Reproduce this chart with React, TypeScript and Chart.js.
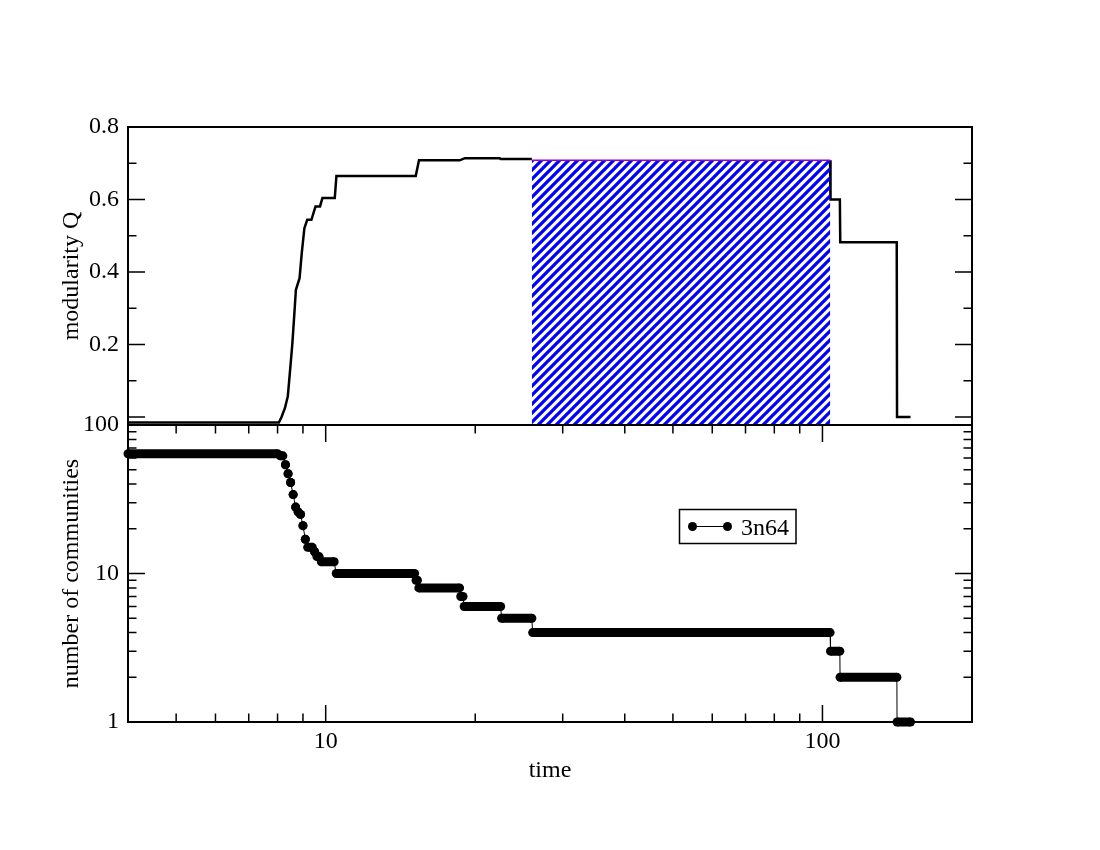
import React, { useEffect, useRef } from 'react';
import { Chart, registerables } from 'chart.js';

Chart.register(...registerables);

// ---------------- data ----------------
const qTime = [4.0, 8.05, 8.15, 8.28, 8.39, 8.48, 8.57, 8.65, 8.71, 8.86, 8.95, 9.06, 9.18, 9.36, 9.54, 9.74, 9.85, 10.43, 10.51, 15.18, 15.41, 18.6, 19.07, 22.4, 22.5, 26.0, 26.1, 103.6, 103.8, 108.4, 108.6, 141.1, 141.3, 150.4];
const qValue = [-0.015, -0.015, 0.0, 0.025, 0.057, 0.13, 0.204, 0.287, 0.351, 0.383, 0.452, 0.521, 0.544, 0.544, 0.581, 0.581, 0.604, 0.604, 0.665, 0.665, 0.708, 0.708, 0.714, 0.714, 0.712, 0.712, 0.708, 0.708, 0.6, 0.6, 0.482, 0.482, 0.0, 0.0];

const hatchTime = [26.0, 103.7];
const hatchValue = [0.708, 0.708];

const commStart = [4.0, 8.1, 8.3, 8.4, 8.5, 8.6, 8.7, 8.8, 8.9, 9.0, 9.1, 9.2, 9.5, 9.6, 9.8, 10.5, 15.2, 15.4, 18.7, 19.0, 22.6, 26.1, 103.8, 108.5, 141.3];
const commEnd = [8.0, 8.2, 8.3, 8.4, 8.5, 8.6, 8.7, 8.8, 8.9, 9.0, 9.1, 9.4, 9.5, 9.7, 10.4, 15.1, 15.3, 18.6, 18.9, 22.5, 26.0, 103.6, 108.4, 141.2, 150.4];
const commCount = [64, 62, 54, 47, 41, 34, 28, 26, 25, 21, 17, 15, 14, 13, 12, 10, 9, 8, 7, 6, 5, 4, 3, 2, 1];

const legendLabel = '3n64';

const qTickLabels = [0.2, 0.4, 0.6, 0.8];
const qMajorTicks = [0, 0.2, 0.4, 0.6, 0.8];
const qMinorTicks = [0.1, 0.3, 0.5, 0.7];
const nTickLabels = [1, 10, 100];
const nMinorTicks = [2, 3, 4, 5, 6, 7, 8, 9, 20, 30, 40, 50, 60, 70, 80, 90];
const xTickLabels = [10, 100];
const xMinorTicks = [5, 6, 7, 8, 9, 20, 30, 40, 50, 60, 70, 80, 90];

// ---------------- styling ----------------
const FONT = '"Liberation Serif", "Times New Roman", serif';
const FS = 24;
const Y_AXIS_W = 75;
const MAJOR = 17;
const MINOR = 8.5;

function makeHatch(): CanvasPattern | string {
  const s = 9;
  const c = document.createElement('canvas');
  c.width = s;
  c.height = s;
  const g = c.getContext('2d');
  if (!g) return 'blue';
  g.strokeStyle = '#0000ff';
  g.lineWidth = 3.3;
  g.beginPath();
  g.moveTo(0, s); g.lineTo(s, 0);
  g.moveTo(-s / 2, s / 2); g.lineTo(s / 2, -s / 2);
  g.moveTo(s / 2, s * 1.5); g.lineTo(s * 1.5, s / 2);
  g.stroke();
  return g.createPattern(c, 'repeat') || 'blue';
}

function yTicks(ctx: CanvasRenderingContext2D, scale: any, area: any, vals: number[], len: number) {
  ctx.beginPath();
  vals.forEach((v) => {
    const y = scale.getPixelForValue(v);
    ctx.moveTo(area.left, y); ctx.lineTo(area.left + len, y);
    ctx.moveTo(area.right, y); ctx.lineTo(area.right - len, y);
  });
  ctx.stroke();
}
function xTicks(ctx: CanvasRenderingContext2D, scale: any, area: any, vals: number[], len: number) {
  ctx.beginPath();
  vals.forEach((v) => {
    const x = scale.getPixelForValue(v);
    ctx.moveTo(x, area.bottom); ctx.lineTo(x, area.bottom - len);
    ctx.moveTo(x, area.top); ctx.lineTo(x, area.top + len);
  });
  ctx.stroke();
}

const tickFont = { size: FS, family: FONT };

function yAxisBase(title: string) {
  return {
    afterFit: (s: any) => { s.width = Y_AXIS_W; },
    grid: { display: false, drawTicks: false },
    border: { display: false },
    ticks: { padding: 9, color: '#000', font: tickFont, callback: (v: any) => String(v) },
    title: { display: true, text: title, color: '#000', font: tickFont, padding: { top: 4, bottom: 4 } },
  };
}

export default function App() {
  const topRef = useRef<HTMLCanvasElement>(null);
  const botRef = useRef<HTMLCanvasElement>(null);

  useEffect(() => {
    const hatch = makeHatch();
    const hFrom = hatchTime[0];
    const hTo = hatchTime[hatchTime.length - 1];

    const topFrame = {
      id: 'topFrame',
      afterDatasetsDraw(chart: any) {
        const { ctx, chartArea: a, scales } = chart;
        ctx.save();
        ctx.strokeStyle = '#000';
        ctx.lineWidth = 1.5;
        yTicks(ctx, scales.y, a, qMajorTicks, MAJOR);
        yTicks(ctx, scales.y, a, qMinorTicks, MINOR);
        ctx.lineWidth = 2;
        ctx.strokeRect(a.left, a.top, a.right - a.left, a.bottom - a.top);
        ctx.restore();
      },
    };

    const top = new Chart(topRef.current as HTMLCanvasElement, {
      type: 'line',
      data: {
        datasets: [
          {
            label: 'plateau',
            data: hatchTime.map((t, i) => ({ x: t, y: hatchValue[i] })),
            fill: 'start',
            backgroundColor: hatch as any,
            borderColor: 'rgb(150,0,190)',
            borderWidth: 1.5,
            pointRadius: 0,
            order: 1,
          },
          {
            label: 'modularity',
            data: qTime.map((t, i) => ({ x: t, y: qValue[i] })),
            borderColor: '#000',
            borderWidth: 2.5,
            pointRadius: 0,
            fill: false,
            order: 2,
            segment: {
              borderColor: (c: any) =>
                c.p0.parsed.x >= hFrom && c.p1.parsed.x <= hTo ? 'rgba(0,0,0,0)' : '#000',
            },
          },
        ],
      },
      options: {
        responsive: false,
        animation: false,
        devicePixelRatio: 1,
        layout: { padding: { left: 128 - Y_AXIS_W, right: 128, top: 127, bottom: 425 } },
        plugins: { legend: { display: false }, tooltip: { enabled: false } },
        scales: {
          x: { type: 'logarithmic', min: 4, max: 200, display: false },
          y: {
            type: 'linear',
            min: -0.022,
            max: 0.8,
            afterBuildTicks: (s: any) => { s.ticks = qTickLabels.map((v) => ({ value: v })); },
            ...yAxisBase('modularity Q'),
          } as any,
        },
      },
      plugins: [topFrame],
    } as any);

    const thinData: any[] = [];
    const thickData: any[] = [];
    commCount.forEach((n, i) => {
      thinData.push({ x: commStart[i], y: n }, { x: commEnd[i], y: n });
      thickData.push({ x: commStart[i], y: n }, { x: commEnd[i], y: n }, { x: commEnd[i], y: null });
    });

    const botFrame = {
      id: 'botFrame',
      afterDatasetsDraw(chart: any) {
        const { ctx, chartArea: a, scales } = chart;
        ctx.save();
        ctx.strokeStyle = '#000';
        ctx.lineWidth = 1.5;
        yTicks(ctx, scales.y, a, nTickLabels, MAJOR);
        yTicks(ctx, scales.y, a, nMinorTicks, MINOR);
        xTicks(ctx, scales.x, a, xTickLabels, MAJOR);
        xTicks(ctx, scales.x, a, xMinorTicks, MINOR);
        ctx.lineWidth = 2;
        ctx.strokeRect(a.left, a.top, a.right - a.left, a.bottom - a.top);

        // legend
        const lx = 679.5, ly = 509.5, lw = 116.5, lh = 34;
        ctx.lineWidth = 1.5;
        ctx.strokeRect(lx, ly, lw, lh);
        const sy = ly + 17;
        ctx.lineWidth = 1;
        ctx.beginPath();
        ctx.moveTo(lx + 13, sy); ctx.lineTo(lx + 48, sy);
        ctx.stroke();
        ctx.fillStyle = '#000';
        [lx + 13, lx + 48].forEach((px) => {
          ctx.beginPath();
          ctx.arc(px, sy, 4.5, 0, Math.PI * 2);
          ctx.fill();
        });
        ctx.font = `${FS}px ${FONT}`;
        ctx.textBaseline = 'middle';
        ctx.textAlign = 'left';
        ctx.fillText(legendLabel, lx + 61.5, sy + 2);
        ctx.restore();
      },
    };

    const bot = new Chart(botRef.current as HTMLCanvasElement, {
      type: 'line',
      data: {
        datasets: [
          {
            label: legendLabel + ' path',
            data: thinData,
            borderColor: '#000',
            borderWidth: 1,
            pointRadius: 0,
            fill: false,
            order: 2,
            clip: false,
          },
          {
            label: legendLabel,
            data: thickData,
            borderColor: '#000',
            borderWidth: 9,
            borderCapStyle: 'butt',
            pointRadius: 4.5,
            pointBackgroundColor: '#000',
            pointBorderWidth: 0,
            spanGaps: false,
            fill: false,
            order: 1,
            clip: false,
          },
        ],
      },
      options: {
        responsive: false,
        animation: false,
        devicePixelRatio: 1,
        layout: { padding: { left: 128 - Y_AXIS_W, right: 128, top: 425, bottom: 61 } },
        plugins: { legend: { display: false }, tooltip: { enabled: false } },
        scales: {
          x: {
            type: 'logarithmic',
            min: 4,
            max: 200,
            afterFit: (s: any) => { s.height = 67; },
            afterBuildTicks: (s: any) => { s.ticks = xTickLabels.map((v) => ({ value: v })); },
            grid: { display: false, drawTicks: false },
            border: { display: false },
            ticks: { padding: 5, maxRotation: 0, autoSkip: false, color: '#000', font: tickFont, callback: (v: any) => String(v) },
            title: { display: true, text: 'time', color: '#000', font: tickFont, padding: { top: 4, bottom: 4 } },
          },
          y: {
            type: 'logarithmic',
            min: 1,
            max: 100,
            afterBuildTicks: (s: any) => { s.ticks = nTickLabels.map((v) => ({ value: v })); },
            ...yAxisBase('number of communities'),
          } as any,
        },
      },
      plugins: [botFrame],
    } as any);

    return () => {
      top.destroy();
      bot.destroy();
    };
  }, []);

  return (
    <div style={{ position: 'fixed', left: 0, top: 0, width: 1100, height: 850, background: '#fff' }}>
      <canvas ref={topRef} width={1100} height={850} style={{ position: 'absolute', left: 0, top: 0 }} />
      <canvas ref={botRef} width={1100} height={850} style={{ position: 'absolute', left: 0, top: 0 }} />
    </div>
  );
}
